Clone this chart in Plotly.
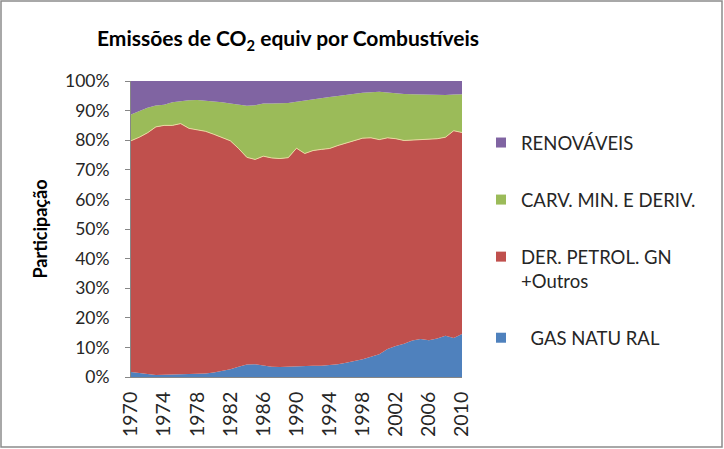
import plotly.graph_objects as go

years = list(range(1970, 2011))

gas_natural = [1.7, 1.3, 1.0, 0.7, 0.8, 0.9, 0.9, 0.9, 1.0, 1.2,
               1.5, 2.0, 2.6, 3.5, 4.2, 4.3, 3.8, 3.5, 3.4, 3.5,
               3.8, 3.7, 3.8, 3.8, 4.0, 4.3, 4.8, 5.3, 6.0, 6.8,
               7.7, 9.5, 10.5, 11.2, 12.3, 12.8, 12.4, 13.0, 13.9, 13.2, 14.5]
der_petrol = [78.1, 79.7, 81.5, 83.8, 84.2, 84.1, 84.7, 83.1, 82.5, 81.8,
              80.5, 79.0, 77.2, 73.7, 70.0, 69.2, 70.8, 70.5, 70.4, 70.6,
              73.5, 71.8, 72.7, 73.1, 73.2, 73.9, 74.2, 74.7, 74.7, 74.0,
              72.5, 71.3, 70.0, 68.7, 67.7, 67.4, 67.9, 67.5, 67.1, 70.0, 68.1]
carvao = [8.9, 8.8, 8.5, 7.2, 7.0, 7.8, 7.6, 9.5, 10.1, 10.4,
          11.1, 11.8, 12.6, 14.8, 17.4, 18.3, 17.8, 18.4, 18.6, 18.5,
          15.7, 17.9, 17.5, 17.4, 17.4, 16.7, 16.3, 15.7, 15.3, 15.4,
          16.2, 15.3, 15.3, 15.7, 15.5, 15.2, 15.0, 14.8, 14.3, 12.2, 12.9]
renovaveis = [11.3, 10.2, 9.0, 8.3, 8.0, 7.2, 6.8, 6.5, 6.4, 6.6,
              6.9, 7.2, 7.6, 8.0, 8.4, 8.2, 7.6, 7.6, 7.6, 7.4,
              7.0, 6.6, 6.0, 5.7, 5.4, 5.1, 4.7, 4.3, 4.0, 3.8,
              3.6, 3.9, 4.2, 4.4, 4.5, 4.6, 4.7, 4.7, 4.7, 4.6, 4.5]

names = ["  GAS NATU RAL", "DER. PETROL. GN<br>+Outros", "CARV. MIN. E DERIV.", "RENOVÁVEIS"]
values = [gas_natural, der_petrol, carvao, renovaveis]
colors = ["#4F81BD", "#C0504D", "#9BBB59", "#8064A2"]

FONT = "Lato, Carlito, Noto Sans, sans-serif"

fig = go.Figure()
for i, (name, vals, color) in enumerate(zip(names, values, colors)):
    lw = 1 if i == 1 else 0
    lc = "#E9D8A0" if i == 1 else color
    fig.add_trace(go.Scatter(
        x=years, y=vals, name=name.replace("<br>", " "), mode="lines",
        stackgroup="one", fillcolor=color,
        line=dict(width=lw, color=lc),
        showlegend=False,
    ))
# legend entries (square keys), top to bottom: RENOVÁVEIS ... GAS NATURAL
for i, (name, color) in enumerate(zip(names, colors)):
    fig.add_trace(go.Scatter(
        x=[None], y=[None], mode="markers", name=name,
        marker=dict(symbol="square", size=10, color=color),
        legendgroup=f"g{i}", legendrank=10 - i,
        showlegend=True, hoverinfo="skip",
    ))

W, H = 724, 449
L, R, T, B = 131, 262, 81, 72
pw, ph = W - L - R, H - T - B

fig.update_layout(
    width=W, height=H,
    margin=dict(l=L, r=R, t=T, b=B, autoexpand=False),
    paper_bgcolor="white", plot_bgcolor="white",
    font=dict(family=FONT, size=16, color="#262626"),
    title=dict(
        text="<b>Emissões de CO<sub>2</sub> equiv por Combustíveis</b>",
        x=288 / W, xanchor="center", y=1 - 39 / H, yanchor="middle",
        font=dict(size=21, family=FONT, color="#000000"),
    ),
    legend=dict(
        x=(481 - L) / pw, xanchor="left",
        y=(H - B - 124) / ph, yanchor="top",
        traceorder="grouped",
        tracegroupgap=30,
        font=dict(size=18.5, color="#262626", family=FONT),
        bgcolor="rgba(0,0,0,0)",
        valign="top",
    ),
    showlegend=True,
)

fig.update_xaxes(
    range=[1970, 2010], tickmode="array",
    tickvals=list(range(1970, 2011, 4)),
    ticktext=[str(y) for y in range(1970, 2011, 4)],
    tickangle=-90, showgrid=False, zeroline=False,
    showline=True, linecolor="#868686", linewidth=1,
    ticks="", ticklabelstandoff=6,
    tickfont=dict(size=19.5, color="#262626"),
)
fig.update_yaxes(
    range=[0, 100], tickmode="array",
    tickvals=list(range(0, 101, 10)),
    ticktext=[f"{v}%" for v in range(0, 101, 10)],
    showgrid=False, zeroline=False,
    showline=True, linecolor="#868686", linewidth=1,
    ticks="outside", ticklen=5, tickcolor="#868686",
    ticklabelstandoff=12,
    tickfont=dict(size=17.5, color="#262626"),
    title=dict(text="<b>Participação</b>", font=dict(size=18, color="#000000"), standoff=12),
)

# outer chart border
fig.add_shape(
    type="rect", xref="paper", yref="paper",
    x0=(1 - L) / pw, x1=(W - 2 - L) / pw,
    y0=(H - B - (H - 2)) / ph, y1=(H - B - 1) / ph,
    line=dict(color="#8C8C8C", width=1.5), fillcolor="rgba(0,0,0,0)",
    layer="below",
)

fig.write_html("out.html", config={"displayModeBar": False},
               post_script="document.body.style.margin='0px';")
